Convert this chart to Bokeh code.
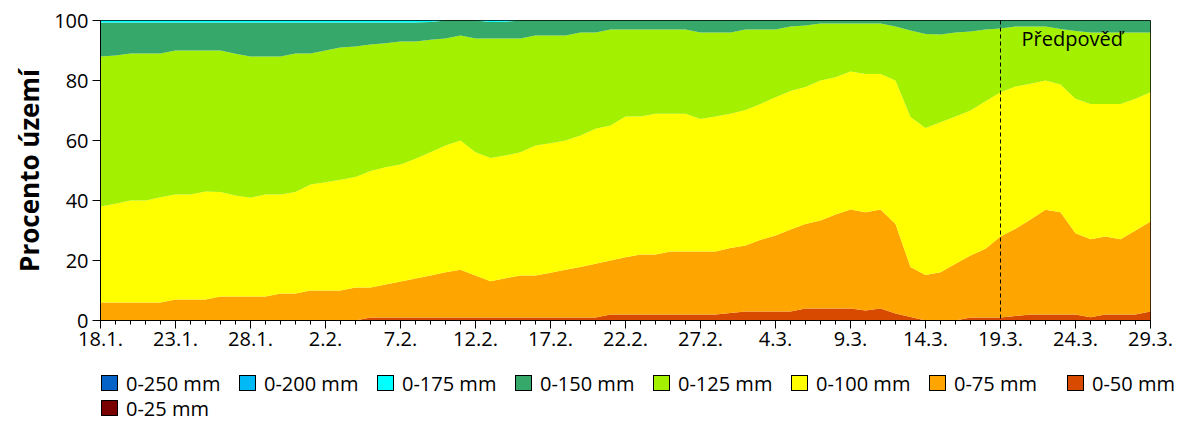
from bokeh.plotting import figure
from bokeh.layouts import column
from bokeh.models import FixedTicker, Span, Label, Range1d, Div
from bokeh.embed import file_html
from bokeh.resources import INLINE

# ---- data -------------------------------------------------------------
# day index 0 = 18.1., 70 = 29.3.  (one value per day)
tick_days = [0, 5, 10, 15, 20, 25, 30, 35, 40, 45, 50, 55, 60, 65, 70]
tick_labels = ["18.1.", "23.1.", "28.1.", "2.2.", "7.2.", "12.2.", "17.2.", "22.2.",
               "27.2.", "4.3.", "9.3.", "14.3.", "19.3.", "24.3.", "29.3."]
forecast_start = 60  # 19.3.

series_names = ["0-250 mm", "0-200 mm", "0-175 mm", "0-150 mm", "0-125 mm",
                "0-100 mm", "0-75 mm", "0-50 mm", "0-25 mm"]
series_colors = ["#0563C8", "#00B9F5", "#00FFFF", "#36A86A", "#A3F000",
                 "#FFFF00", "#FFA500", "#D84A00", "#7A0000"]

# cumulative percentage of territory (top edge of each band)
pct_0_25 = [0, 0, 0, 0, 0, 0, 0, 0, 0, 0, 0, 0, 0, 0, 0, 0, 0, 0, 0, 0,
            0, 0, 0, 0, 0, 0, 0, 0, 0, 0, 0, 0, 0, 0, 0, 0, 0, 0, 0, 0,
            0, 0, 0, 0, 0, 0, 0, 0, 0, 0, 0, 0, 0, 0, 0, 0, 0, 0, 0, 0,
            0, 0, 0, 0, 0, 0, 0, 0, 0, 0, 0]
pct_0_50 = [0, 0, 0, 0, 0, 0, 0, 0, 0, 0, 0, 0, 0, 0, 0, 0, 0, 0, 1, 1,
            1, 1, 1, 1, 1, 1, 1, 1, 1, 1, 1, 1, 1, 1, 2, 2, 2, 2, 2, 2,
            2, 2, 2.5, 3, 3, 3, 3, 4, 4, 4, 4, 3.3, 4, 2.3, 1.2, 0, 0, 0, 1, 1,
            1, 1.5, 2, 2, 2, 2, 1.1, 2, 2, 2, 3]
pct_0_75 = [6, 6, 6, 6, 6, 7, 7, 7, 8, 8, 8, 8, 9, 9, 10, 10, 10, 11, 11, 12,
            13, 14, 15, 16.1, 16.9, 15, 13.1, 14.1, 15, 15, 15.9, 16.9, 17.8, 18.9, 20, 21.1, 22, 22, 23, 23,
            23, 23, 24.2, 25, 26.9, 28.3, 30.3, 32.2, 33.3, 35.3, 37, 36.1, 37, 32.2, 17.8, 15.2, 16.1, 18.9, 21.7, 23.9,
            28, 30.6, 33.7, 36.9, 36.1, 29.1, 27.1, 28, 27.1, 30, 33]
pct_0_100 = [38, 38.9, 40, 40, 41.1, 42, 42, 43, 42.8, 41.7, 40.9, 42, 42, 42.8, 45.3, 46.1, 46.9, 47.8, 49.8, 51.1,
             52, 53.9, 56.1, 58.3, 60, 56.1, 54.2, 55, 56.1, 58.3, 59.1, 60, 61.7, 63.9, 65, 68, 68, 68.9, 68.9, 68.9,
             67.2, 68, 68.9, 70.2, 72.2, 74.4, 76.5, 77.8, 80, 81.1, 83, 82.2, 82.2, 80, 67.8, 64.2, 66.1, 68, 70, 73.1,
             76.1, 78, 78.9, 80, 78.7, 73.9, 72.2, 72.2, 72.2, 73.9, 76.1]
pct_0_125 = [88, 88.3, 89, 89, 89, 90, 90, 90, 90, 88.9, 88, 88, 88, 89, 89, 90, 91, 91.3, 92, 92.4,
             93, 93, 93.6, 94, 95, 94, 94, 94, 94, 95, 95, 95, 96, 96, 97, 97, 97, 97, 97, 97,
             96, 96, 96, 97, 97, 97, 98, 98.3, 99, 99, 99, 99, 99, 98, 96.7, 95.5, 95.3, 96, 96.3, 97,
             97.3, 98, 98, 98, 97.2, 96.5, 96, 96, 96, 96, 96]
pct_0_150 = [99.3, 99.3, 99.3, 99.3, 99.3, 99.3, 99.3, 99.3, 99.3, 99.3, 99.3, 99.3, 99.3, 99.3, 99.3, 99.3, 99.3, 99.3, 99.3, 99.3,
             99.3, 99.3, 99.5, 100, 100, 100, 99.5, 99.6, 100, 100, 100, 100, 100, 100, 100, 100, 100, 100, 100, 100,
             100, 100, 100, 100, 100, 100, 100, 100, 100, 100, 100, 100, 100, 100, 100, 100, 100, 100, 100, 100,
             100, 100, 100, 100, 100, 100, 100, 100, 100, 100, 100]
pct_0_175 = [100, 100, 100, 100, 100, 100, 100, 100, 100, 100, 100, 100, 100, 100, 100, 100, 100, 100, 100, 100,
             100, 100, 100, 100, 100, 100, 100, 100, 100, 100, 100, 100, 100, 100, 100, 100, 100, 100, 100, 100,
             100, 100, 100, 100, 100, 100, 100, 100, 100, 100, 100, 100, 100, 100, 100, 100, 100, 100, 100, 100,
             100, 100, 100, 100, 100, 100, 100, 100, 100, 100, 100]
pct_0_200 = list(pct_0_175)
pct_0_250 = list(pct_0_175)

days = list(range(len(pct_0_100)))

# ---- main figure --------------------------------------------------------
FONT = "Open Sans"
p = figure(width=1200, height=360, output_backend="svg", toolbar_location=None,
           x_range=Range1d(0, 70), y_range=Range1d(0, 100),
           min_border_left=100, min_border_right=50, min_border_top=20, min_border_bottom=40)

stack = [pct_0_25, pct_0_50, pct_0_75, pct_0_100, pct_0_125, pct_0_150, pct_0_175, pct_0_200, pct_0_250]
colors_bottom_up = list(reversed(series_colors))
prev = [0] * len(days)
for col, top in zip(colors_bottom_up, stack):
    p.varea(x=days, y1=prev, y2=top, fill_color=col, fill_alpha=1)
    prev = top

p.add_layout(Span(location=forecast_start, dimension="height", line_color="black",
                  line_dash="4 3", line_width=1))
p.add_layout(Label(x=forecast_start + 1.4, y=98.6, text="Předpověď", text_font=FONT,
                   text_font_size="20px", text_color="black", text_baseline="top"))

p.grid.visible = False
p.outline_line_color = "black"
p.outline_line_alpha = 1

p.xaxis.ticker = FixedTicker(ticks=tick_days, minor_ticks=days)
p.xaxis.major_label_overrides = {d: l for d, l in zip(tick_days, tick_labels)}
p.yaxis.ticker = FixedTicker(ticks=[0, 20, 40, 60, 80, 100], minor_ticks=[])
p.axis.major_tick_in = 0
p.axis.major_tick_out = 8
p.axis.minor_tick_in = 0
p.xaxis.minor_tick_out = 4
p.yaxis.minor_tick_line_color = None
p.axis.axis_line_color = "black"
p.axis.major_tick_line_color = "black"
p.axis.minor_tick_line_color = "black"
p.axis.major_label_text_font = FONT
p.axis.major_label_text_font_size = "20px"
p.axis.major_label_text_color = "black"
p.xaxis.major_label_standoff = 3
p.yaxis.major_label_standoff = 4
p.yaxis.axis_label = "Procento území"
p.yaxis.axis_label_text_font = FONT
p.yaxis.axis_label_text_font_size = "26px"
p.yaxis.axis_label_text_font_style = "bold"
p.yaxis.axis_label_text_color = "black"
p.yaxis.axis_label_standoff = 4

# ---- legend strip (HTML below the plot) --------------------------------
per_row = 8
col_step = 138
parts = ['<div style="position:relative;width:1200px;height:70px;'
         'font-family:\'Open Sans\';font-size:20px;color:#000;">']
for k, (name, color) in enumerate(zip(series_names, series_colors)):
    bx = 101 + col_step * (k % per_row)
    by = 15 + 25 * (k // per_row)
    parts.append(f'<div style="position:absolute;left:{bx}px;top:{by}px;width:17px;height:16px;'
                 f'background:{color};border:1px solid #000;"></div>')
    parts.append(f'<div style="position:absolute;left:{bx + 25}px;top:{by - 4}px;'
                 f'line-height:26px;white-space:nowrap;">{name}</div>')
parts.append('</div>')
legend_div = Div(text="".join(parts), width=1200, height=70, margin=0)

layout = column(p, legend_div, spacing=0)
open("out.html", "w").write(file_html(layout, INLINE))
